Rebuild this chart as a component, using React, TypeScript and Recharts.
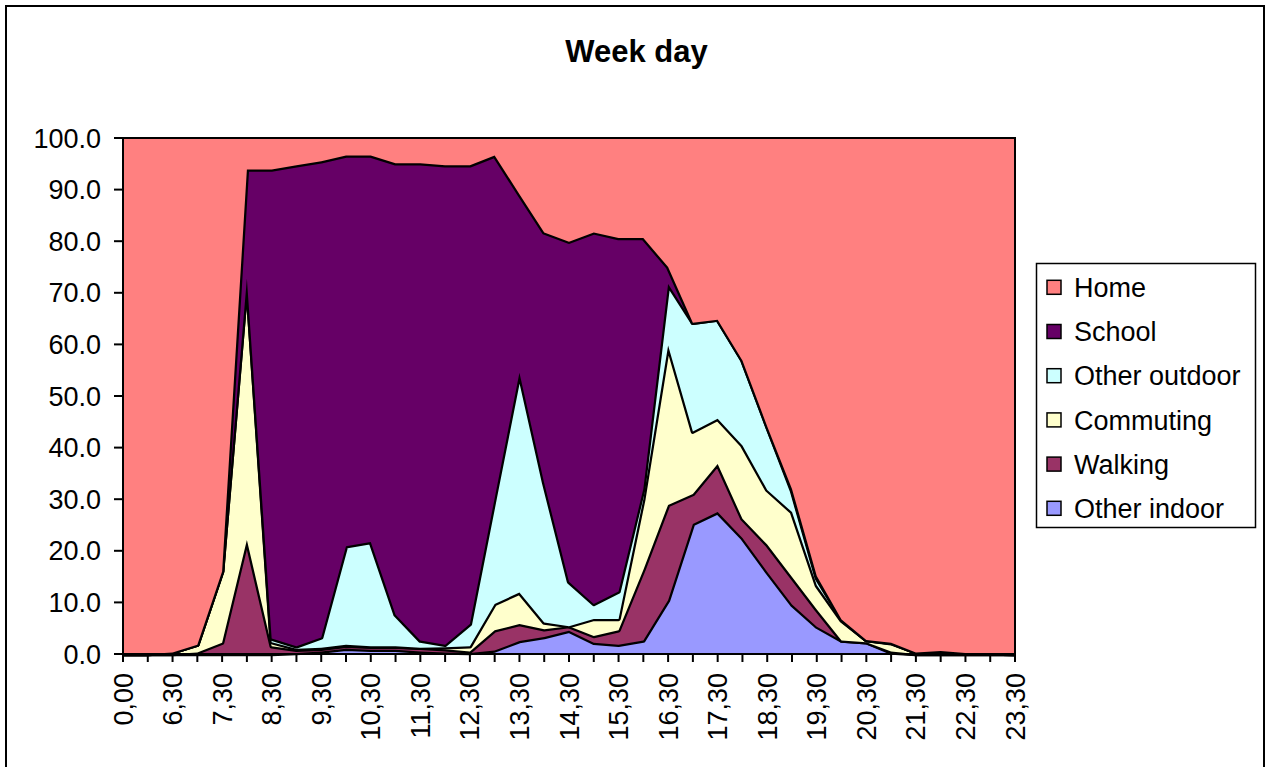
import React from 'react'
import { AreaChart, Area, XAxis, YAxis, ReferenceArea } from 'recharts'

// half-hour slots (only every other one gets a label)
const times = [
  '0,00', '6,00', '6,30', '7,00', '7,30', '8,00', '8,30', '9,00', '9,30', '10,00',
  '10,30', '11,00', '11,30', '12,00', '12,30', '13,00', '13,30', '14,00', '14,30', '15,00',
  '15,30', '16,00', '16,30', '17,00', '17,30', '18,00', '18,30', '19,00', '19,30', '20,00',
  '20,30', '21,00', '21,30', '22,00', '22,30', '23,00', '23,30',
]

const otherIndoor = [
  0, 0, 0, 0, 0, 0, 0, 0.2, 0.5, 1.0,
  0.8, 0.8, 0.5, 0.3, 0.2, 0.7, 2.5, 3.3, 4.5, 2.2,
  1.8, 2.6, 10.4, 25.2, 27.5, 22.5, 15.9, 9.6, 5.3, 2.6,
  2.3, 0.3, 0, 0, 0, 0, 0,
]
const walking = [
  0, 0, 0, 0.3, 2.2, 22.1, 1.5, 0.6, 0.5, 0.6,
  0.6, 0.6, 0.7, 0.6, 0.3, 3.9, 3.3, 1.5, 0.9, 1.3,
  2.8, 13.7, 18.5, 5.8, 9.3, 3.7, 5.3, 5.3, 3.3, 0,
  0, 0.2, 0, 0, 0, 0, 0,
]
const commuting = [
  0, 0, 0.3, 1.5, 13.8, 50.6, 0.8, 0.2, 0.2, 0.2,
  0.1, 0.1, 0, 0.4, 1.0, 5.1, 6.1, 1.3, 0, 3.3,
  2.2, 13.7, 30.9, 12.1, 8.8, 14.2, 10.6, 12.6, 4.7, 3.9,
  0.4, 1.6, 0.3, 0.3, 0.2, 0.1, 0,
]
const otherOutdoor = [
  0, 0, 0, 0, 0, 0, 0.7, 0.5, 2.0, 19.1,
  20.2, 6.1, 1.4, 0.5, 4.3, 20.5, 42.6, 27.0, 8.6, 2.9,
  5.3, 2.0, 11.9, 21.1, 19.2, 16.5, 12.3, 4.1, 1.4, 0.2,
  0, 0.1, 0, 0.3, 0, 0, 0,
]
const school = [
  0, 0, 0, 0, 0, 21.2, 90.9, 93.2, 92.3, 75.7,
  74.9, 87.5, 92.5, 92.9, 88.9, 66.4, 34.6, 48.6, 65.9, 72.0,
  68.5, 48.6, 3.3, 0, 0, 0, 0, 0.4, 0.4, 0,
  0, 0, 0, 0, 0, 0, 0,
]
const home = [
  100, 100, 99.7, 98.2, 84.0, 6.1, 6.1, 5.3, 4.5, 3.4,
  3.4, 4.9, 4.9, 5.3, 5.3, 3.4, 10.9, 18.3, 20.1, 18.3,
  19.4, 19.4, 25.0, 35.8, 35.2, 43.1, 55.9, 68.0, 84.9, 93.3,
  97.3, 97.8, 99.7, 99.4, 99.8, 99.9, 100,
]

const yTicks = [0, 10, 20, 30, 40, 50, 60, 70, 80, 90, 100]

// stacking order bottom -> top
const series = [
  { key: 'otherIndoor', name: 'Other indoor', color: '#9999FF', values: otherIndoor },
  { key: 'walking', name: 'Walking', color: '#993366', values: walking },
  { key: 'commuting', name: 'Commuting', color: '#FFFFCC', values: commuting },
  { key: 'otherOutdoor', name: 'Other outdoor', color: '#CCFFFF', values: otherOutdoor },
  { key: 'school', name: 'School', color: '#660066', values: school },
  { key: 'home', name: 'Home', color: '#FF8080', values: home },
]

const data = times.map((t, i) => {
  const row: { [k: string]: number | string } = { t }
  series.forEach(s => { row[s.key] = s.values[i] })
  return row
})

const FONT = '"Liberation Sans", Arial, sans-serif'
const SMALL = 27

function XTick({ x, y, payload, index }: any) {
  if (index % 2 !== 0) return <g />
  return (
    <text
      transform={`translate(${x + 9.5},${y + 9}) rotate(-90)`}
      textAnchor="end"
      fontSize={SMALL}
      fontFamily={FONT}
      fill="#000"
    >
      {payload.value}
    </text>
  )
}

export default function App() {
  const legendItems = [...series].reverse()
  return (
    <div style={{ position: 'fixed', left: 0, top: 0, width: 1266, height: 767, overflow: 'hidden', background: '#fff', fontFamily: FONT }}>
      <div style={{ position: 'absolute', left: 0, top: 0 }}>
        <AreaChart width={1266} height={767} data={data} margin={{ top: 138, right: 251, bottom: 13, left: 13 }}>
          <XAxis
            dataKey="t"
            interval={0}
            tickSize={8}
            height={100}
            tick={<XTick />}
            axisLine={{ stroke: '#000', strokeWidth: 2 }}
            tickLine={{ stroke: '#000', strokeWidth: 2 }}
          />
          <YAxis
            domain={[0, 100]}
            ticks={yTicks}
            width={110}
            tickSize={9}
            tickMargin={13}
            tickFormatter={(v: number) => v.toFixed(1)}
            tick={{ fill: '#000', fontSize: SMALL, fontFamily: FONT }}
            axisLine={{ stroke: '#000', strokeWidth: 2 }}
            tickLine={{ stroke: '#000', strokeWidth: 2 }}
          />
          {series.map(s => (
            <Area
              key={s.key}
              type="linear"
              dataKey={s.key}
              name={s.name}
              stackId="a"
              fill={s.color}
              fillOpacity={1}
              stroke="#000"
              strokeWidth={s.key === 'home' ? 2 : 4.5}
              strokeLinejoin="round"
              isAnimationActive={false}
            />
          ))}
          <ReferenceArea x1="0,00" x2="23,30" y1={0} y2={100} fill="none" stroke="#000" strokeWidth={2} ifOverflow="visible" />
        </AreaChart>
      </div>
      <svg width={1266} height={767} style={{ position: 'absolute', left: 0, top: 0, pointerEvents: 'none' }}>
        {/* outer chart frame, runs off the bottom of the page */}
        <path d="M6 800 V6 H1264 V800" fill="none" stroke="#000" strokeWidth={2} />
        <text x={636.5} y={62} textAnchor="middle" fontSize={31} fontWeight="bold" fontFamily={FONT} fill="#000">Week day</text>
        <rect x={1036.5} y={263.5} width={219} height={264} fill="#fff" stroke="#000" strokeWidth={1.5} />
        {legendItems.map((s, i) => {
          const cy = 287.3 + i * 44.2
          return (
            <g key={s.key}>
              <rect x={1047} y={cy - 7} width={14} height={14} fill={s.color} stroke="#000" strokeWidth={1.5} />
              <text x={1074} y={cy + 9.6} fontSize={SMALL} fontFamily={FONT} fill="#000">{s.name}</text>
            </g>
          )
        })}
      </svg>
    </div>
  )
}
